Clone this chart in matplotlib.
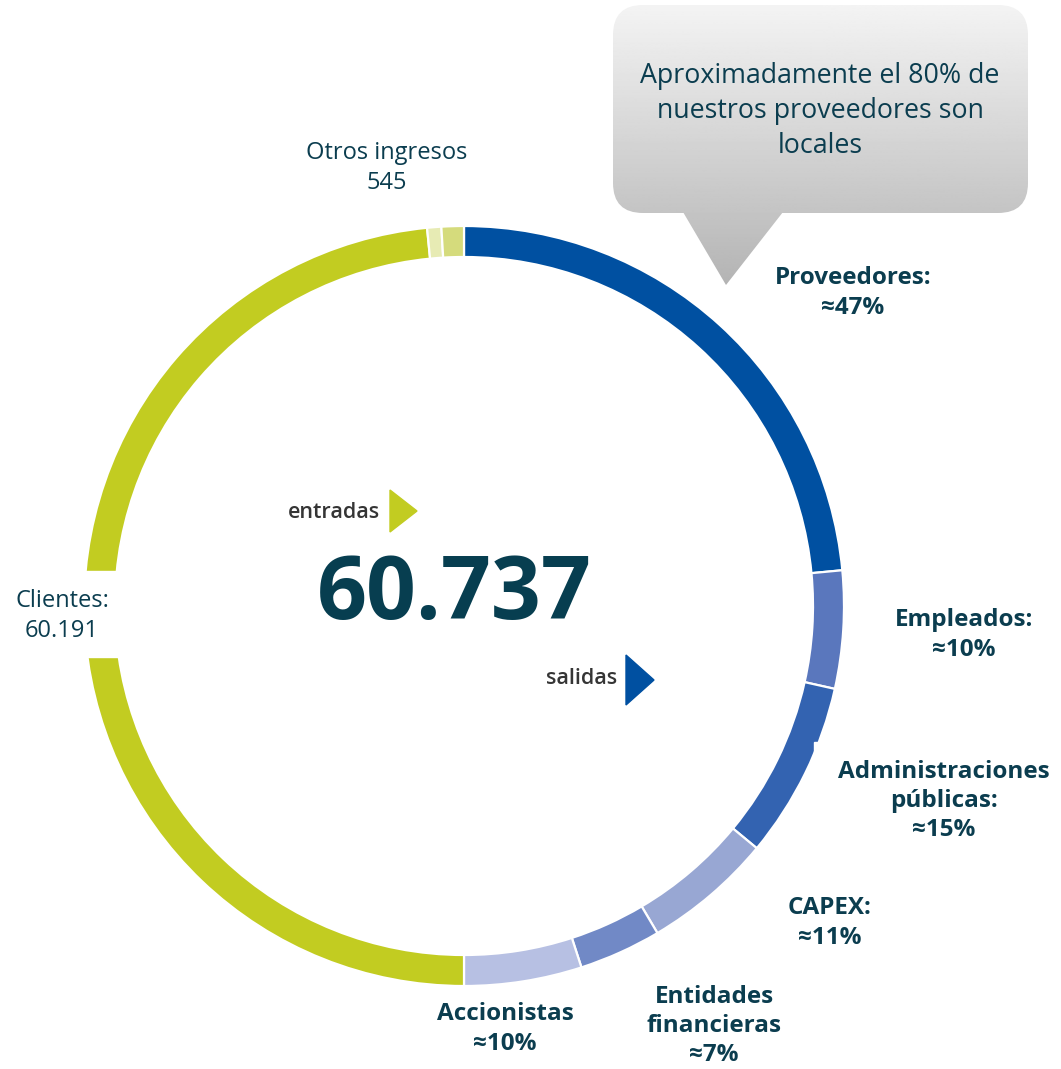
import numpy as np
import matplotlib.pyplot as plt
from matplotlib.patches import FancyBboxPatch, Polygon, Rectangle

# outflows (right half of the ring), % of total
out_labels = ['Proveedores:', 'Empleados:', 'Administraciones\npúblicas:',
              'CAPEX:', 'Entidades\nfinancieras', 'Accionistas']
out_pct = [47, 10, 15, 11, 7, 10]
out_colors = ['#0050A1', '#5A77BD', '#3363B1', '#98A7D3', '#7189C6', '#B7C0E3']

# inflows (left half of the ring)
in_labels = ['Clientes:', 'Otros ingresos']
in_values = [60191, 545]
# share of the left half as drawn in the picture (otros ingresos in two pieces)
in_drawn = [96.9, 1.2, 1.9]
in_colors = ['#C2CC21', '#E7EBB4', '#D5DB7C']

total = '60.737'
callout = 'Aproximadamente el 80% de\nnuestros proveedores son\nlocales'

W, H = 1061, 1069
TXT = '#0B3D4F'
plt.rcParams['font.family'] = ['Open Sans', 'DejaVu Sans']

fig = plt.figure(figsize=(W / 100, H / 100), dpi=100)
ax = fig.add_axes([0, 0, 1, 1])


def Y(y):
    return H - y


cx, cy, R = 464, Y(606), 380
ax.pie(out_pct + in_drawn, colors=out_colors + in_colors, center=(cx, cy),
       radius=R, startangle=90, counterclock=False,
       wedgeprops=dict(width=31, edgecolor='white', linewidth=1.6))
ax.set_xlim(0, W)
ax.set_ylim(0, H)
ax.set_aspect('equal')
ax.axis('off')

# white patches behind some labels (they cut the ring)
ax.add_patch(Rectangle((0, Y(657)), 125, 86, color='white', zorder=3))
ax.add_patch(Rectangle((814, Y(850)), 247, 108, color='white', zorder=3))

# callout with grey gradient
grad = np.linspace(0.955, 0.70, 256).reshape(-1, 1)
box = FancyBboxPatch((613 + 30, Y(213) + 30), 415 - 60, 208 - 60,
                     boxstyle='round,pad=30', facecolor='none', edgecolor='none')
tip = Polygon([(683, Y(212)), (783, Y(212)), (726, Y(285))], closed=True,
              facecolor='none', edgecolor='none')
for p in (box, tip):
    ax.add_patch(p)
    im = ax.imshow(grad, cmap='gray', vmin=0, vmax=1, aspect='auto',
                   extent=(613, 1028, Y(290), Y(5)), zorder=2)
    im.set_clip_path(p)
ax.text(820, Y(111), callout, ha='center', va='center', fontsize=19.3,
        color=TXT, linespacing=1.33, zorder=5)

# outflow labels
out_pos = [(853, 293), (964, 635), (944, 801), (830, 923), (714, 1026), (505, 1029)]
for lab, pct, (x, y) in zip(out_labels, out_pct, out_pos):
    ax.text(x, Y(y), f'{lab}\n≈{pct}%', ha='center', va='center', fontsize=17.5,
            fontweight='bold', color=TXT, linespacing=1.3, zorder=5)

# inflow labels
ax.text(62, Y(616), f'{in_labels[0]}\n{in_values[0]:,}'.replace(',', '.'),
        ha='center', va='center', fontsize=17, color=TXT, linespacing=1.3, zorder=5)
ax.text(387, Y(168), f'{in_labels[1]}\n{in_values[1]}',
        ha='center', va='center', fontsize=17, color=TXT, linespacing=1.3, zorder=5)

# centre
ax.text(454, Y(596), total, ha='center', va='center', fontsize=63,
        fontweight='bold', color='#073E50', zorder=5)
ax.text(380, Y(512), 'entradas', ha='right', va='center', fontsize=15.5,
        fontweight='semibold', color='#353535', zorder=5)
ax.add_patch(Polygon([(390, Y(490)), (390, Y(532)), (417, Y(511))],
                     color='#C2CC21', zorder=5))
ax.text(617, Y(679), 'salidas', ha='right', va='center', fontsize=15.5,
        fontweight='semibold', color='#353535', zorder=5)
ax.add_patch(Polygon([(626, Y(655)), (626, Y(705)), (654, Y(680))],
                     color='#0050A1', zorder=5))

plt.savefig('out.png', dpi=100)
plt.close()
